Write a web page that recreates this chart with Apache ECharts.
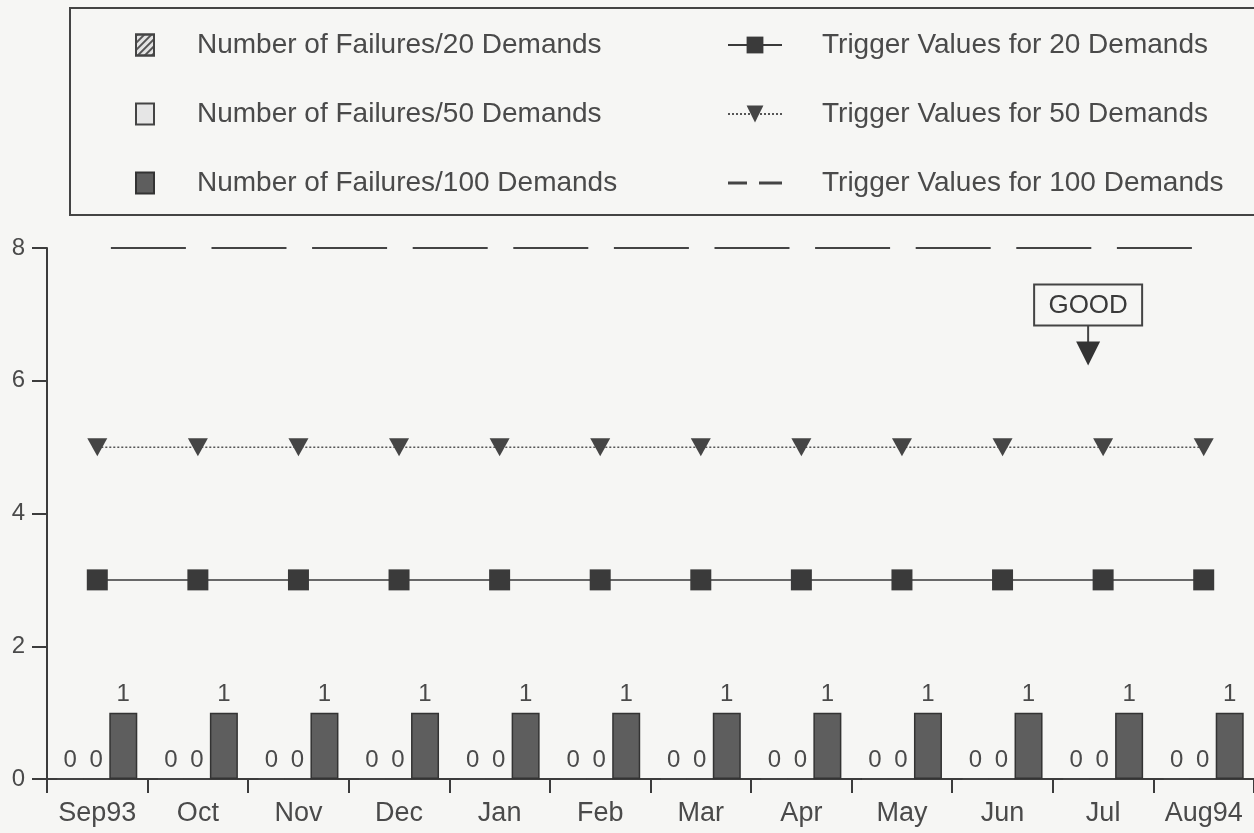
<!DOCTYPE html>
<html>
<head>
<meta charset="utf-8">
<script src="https://cdn.jsdelivr.net/npm/echarts@6/dist/echarts.min.js"></script>
<style>
  html, body { margin: 0; padding: 0; background: #f6f6f4; }
  #chart { width: 1254px; height: 833px; }
</style>
</head>
<body>
<div id="chart"></div>
<script>
const months = ['Sep93', 'Oct', 'Nov', 'Dec', 'Jan', 'Feb', 'Mar', 'Apr', 'May', 'Jun', 'Jul', 'Aug94']
const fail20 = [0, 0, 0, 0, 0, 0, 0, 0, 0, 0, 0, 0]
const fail50 = [0, 0, 0, 0, 0, 0, 0, 0, 0, 0, 0, 0]
const fail100 = [1, 1, 1, 1, 1, 1, 1, 1, 1, 1, 1, 1]
const trig20 = [3, 3, 3, 3, 3, 3, 3, 3, 3, 3, 3, 3]
const trig50 = [5, 5, 5, 5, 5, 5, 5, 5, 5, 5, 5, 5]
const trig100 = [8, 8, 8, 8, 8, 8, 8, 8, 8, 8, 8, 8]
const yTicks = [0, 2, 4, 6, 8]

const font = 'Liberation Sans, Arial, sans-serif'
const ink = '#3c3c3c'
const txt = '#4a4a4a'

const myChart = echarts.init(document.getElementById('chart'))

const barLabel = {
  show: true,
  position: 'top',
  distance: 6,
  color: txt,
  fontSize: 24,
  fontFamily: font
}

let option = {
  backgroundColor: '#f6f6f4',
  animation: false,
  grid: { left: 47, right: 0, top: 248, bottom: 54, containLabel: false },
  legend: [
    {
      orient: 'vertical',
      left: 130,
      top: 26,
      itemWidth: 18,
      itemHeight: 21,
      itemGap: 41,
      icon: 'rect',
      textStyle: { fontSize: 28, color: txt, fontFamily: font, padding: [0, 0, 0, 38] },
      data: ['Number of Failures/20 Demands', 'Number of Failures/50 Demands', 'Number of Failures/100 Demands']
    },
    {
      orient: 'vertical',
      left: 722,
      top: 26,
      itemWidth: 54,
      itemHeight: 21,
      itemGap: 41,
      textStyle: { fontSize: 28, color: txt, fontFamily: font, padding: [0, 0, 0, 35] },
      data: [
        'Trigger Values for 20 Demands',
        'Trigger Values for 50 Demands',
        {
          name: 'Trigger Values for 100 Demands',
          icon: 'path://M0,0h19v3h-19zM31,0h23v3h-23z'
        }
      ]
    }
  ],
  xAxis: {
    type: 'category',
    data: months,
    boundaryGap: true,
    axisLine: { lineStyle: { color: ink, width: 2 } },
    axisTick: { show: true, length: 14, inside: false, lineStyle: { color: ink, width: 2 } },
    axisLabel: { color: txt, fontSize: 27, fontFamily: font, margin: 21, interval: 0, hideOverlap: false },
    splitLine: { show: false }
  },
  yAxis: {
    type: 'value',
    min: 0,
    max: 8,
    interval: 2,
    axisLine: { show: true, lineStyle: { color: ink, width: 2 } },
    axisTick: { show: true, length: 15, lineStyle: { color: ink, width: 2 } },
    axisLabel: {
      color: txt, fontSize: 24, fontFamily: font, margin: 22,
      formatter: v => (yTicks.indexOf(v) >= 0 ? String(v) : '')
    },
    splitLine: { show: false }
  },
  series: [
    {
      name: 'Number of Failures/20 Demands',
      type: 'bar',
      data: fail20,
      barWidth: 26,
      barGap: '0%',
      itemStyle: {
        color: '#e4e4e4',
        borderColor: '#444',
        borderWidth: 1,
        decal: {
          symbol: 'rect',
          symbolSize: 1,
          dashArrayX: [1, 0],
          dashArrayY: [2, 3],
          rotation: -Math.PI / 4,
          color: '#555'
        }
      },
      label: barLabel
    },
    {
      name: 'Number of Failures/50 Demands',
      type: 'bar',
      data: fail50,
      barWidth: 26,
      barGap: '0%',
      itemStyle: { color: '#e6e6e6', borderColor: '#444', borderWidth: 1.5 },
      label: barLabel
    },
    {
      name: 'Number of Failures/100 Demands',
      type: 'bar',
      data: fail100,
      barWidth: 28,
      barGap: '0%',
      itemStyle: { color: '#5e5e5e', borderColor: '#333', borderWidth: 1.5 },
      label: barLabel
    },
    {
      name: 'Trigger Values for 20 Demands',
      type: 'line',
      data: trig20,
      symbol: 'rect',
      symbolSize: 21,
      itemStyle: { color: '#3a3a3a' },
      lineStyle: { color: '#3a3a3a', width: 1.5 },
      z: 5
    },
    {
      name: 'Trigger Values for 50 Demands',
      type: 'line',
      data: trig50,
      symbol: 'triangle',
      symbolRotate: 180,
      symbolSize: [20, 18],
      itemStyle: { color: '#454545' },
      lineStyle: { color: '#555', width: 1.5, type: [2, 2] },
      z: 5
    },
    {
      name: 'Trigger Values for 100 Demands',
      type: 'line',
      data: trig100,
      symbol: 'none',
      itemStyle: { color: '#444' },
      lineStyle: { color: '#444', width: 2, type: [75, 25.6], dashOffset: 87 },
      z: 5
    }
  ]
}

myChart.setOption(option)

// legend frame and the GOOD marker, placed from the axes
const tip = myChart.convertToPixel({ xAxisIndex: 0, yAxisIndex: 0 }, ['Jul', 6.23])
const ax = tip[0] - 15
const ay = tip[1]
myChart.setOption({
  graphic: [
    {
      type: 'rect',
      shape: { x: 70, y: 8, width: 1200, height: 207 },
      style: { fill: 'none', stroke: '#444', lineWidth: 2 },
      silent: true
    },
    {
      type: 'group',
      children: [
        {
          type: 'rect',
          shape: { x: ax - 54, y: ay - 81, width: 108, height: 41 },
          style: { fill: '#f6f6f4', stroke: '#444', lineWidth: 2 }
        },
        {
          type: 'text',
          x: ax,
          y: ay - 60,
          style: {
            text: 'GOOD', fill: '#3a3a3a', fontSize: 26, fontFamily: font,
            align: 'center', verticalAlign: 'middle'
          }
        },
        {
          type: 'line',
          shape: { x1: ax, y1: ay - 40, x2: ax, y2: ay - 22 },
          style: { stroke: '#444', lineWidth: 2 }
        },
        {
          type: 'polygon',
          shape: { points: [[ax - 12, ay - 24], [ax + 12, ay - 24], [ax, ay]] },
          style: { fill: '#333' }
        }
      ]
    }
  ]
})
</script>
</body>
</html>
